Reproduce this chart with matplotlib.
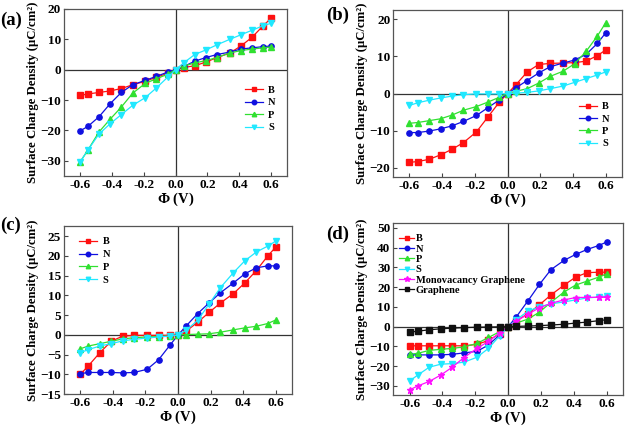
import numpy as np
import matplotlib.pyplot as plt

plt.rcParams['font.family'] = ['Liberation Serif', 'DejaVu Serif']
plt.rcParams['font.weight'] = 'bold'
plt.rcParams['mathtext.fontset'] = 'custom'
plt.rcParams['mathtext.rm'] = 'Liberation Serif:bold'
plt.rcParams['mathtext.bf'] = 'Liberation Serif:bold'
plt.rcParams['mathtext.it'] = 'Liberation Serif:bold:italic'

# bias potential (V)
phi = [-0.6, -0.55, -0.48, -0.41, -0.34, -0.27, -0.19, -0.12, -0.05, 0.0,
       0.05, 0.12, 0.19, 0.26, 0.34, 0.41, 0.48, 0.55, 0.6]

# (a)
a_B = [-8.5, -8, -7.5, -7, -6.2, -5, -3.8, -2.5, -1.2, 0, 0.7, 1.3, 2.5, 4, 5.5, 7.8, 10.7, 14.5, 17]
a_N = [-20.2, -18.7, -15.5, -11.2, -7.5, -5, -3.5, -2.2, -0.8, 0, 1, 2.8, 4, 5, 5.8, 6.8, 7.2, 7.6, 7.8]
a_P = [-30.5, -26.5, -20.5, -16.3, -12.3, -7.8, -4.5, -3, -1.5, 0, 1.2, 2.2, 3, 4, 5.5, 6.3, 6.8, 7.2, 7.5]
a_S = [-30.5, -26.5, -21.2, -17.8, -14.8, -11.8, -9.2, -6, -2.5, 0, 2.2, 5, 6.5, 8.2, 10, 11.5, 13, 14.5, 15.3]

# (b)
b_B = [-18.5, -18.3, -17.7, -16.5, -15, -13.2, -10.3, -6.3, -2.3, 0, 2.3, 5.8, 7.8, 8.1, 8.2, 8.3, 8.7, 10.2, 11.7]
b_N = [-10.5, -10.5, -10.1, -9.5, -8.7, -7.5, -5.9, -3.8, -1.7, 0, 1.5, 3.5, 5.5, 7.2, 8.2, 9, 10.5, 13.5, 16.3]
b_P = [-8, -7.8, -7.3, -6.8, -5.8, -4.5, -3.5, -2.3, -1, 0, 0.6, 1.3, 2.8, 4.6, 6, 8, 11.3, 15.5, 19]
b_S = [-3.2, -2.5, -1.8, -1.2, -0.7, -0.3, -0.1, -0.1, -0.1, 0, 0.1, 0.3, 0.7, 1.3, 2, 3, 4, 5, 5.8]

# (c)
c_B = [-10, -7.8, -4.5, -1.6, -0.3, -0.1, -0.1, -0.1, -0.1, 0, 1, 3.2, 5.7, 8.1, 10.5, 13.2, 16.3, 20, 22.3]
c_N = [-9.8, -9.5, -9.5, -9.5, -9.6, -9.5, -8.7, -6.3, -2.6, 0, 2.3, 5.4, 8.1, 10.7, 13.2, 15.5, 17, 17.5, 17.5]
c_P = [-3.5, -2.8, -2.2, -1.6, -1, -0.7, -0.5, -0.4, -0.3, 0, 0.1, 0.2, 0.3, 0.7, 1.3, 1.8, 2.2, 2.9, 3.8]
c_S = [-4.5, -3.7, -2.8, -2.2, -1.5, -1.1, -0.8, -0.5, -0.3, 0, 1.2, 3.7, 7.8, 12, 15.8, 18.8, 21, 22.5, 23.8]

# (d)
d_B = [-9.7, -9.7, -9.7, -9.7, -9.7, -9.7, -9, -7, -3.5, 0, 3, 6.5, 11, 16, 21, 25, 27.3, 27.5, 27.5]
d_N = [-14.3, -14.3, -14.3, -14.3, -14, -13.3, -12.5, -9.3, -4, 0, 5, 13, 21.3, 28.8, 33.5, 36.5, 39, 41, 42.8]
d_P = [-14, -13.5, -12, -11.5, -11, -10.3, -8.5, -5.5, -2.5, 0, 1.8, 3.8, 7.3, 12.3, 17.5, 21, 23, 25, 26.7]
d_S = [-27.5, -24.5, -20.5, -19, -18.7, -18, -15.5, -11, -4.5, 0, 3.5, 7.8, 10, 11.5, 12.5, 13.5, 14.5, 15, 15.5]
d_MV = [-32, -30, -27.7, -24.5, -20.5, -15.7, -11, -7.5, -3, 0, 2.8, 6.3, 9.5, 11.8, 13.5, 14.7, 14.8, 14.8, 14.8]
d_G = [-2.8, -2.3, -1.6, -1.1, -0.8, -0.5, -0.3, -0.2, -0.1, 0, 0.1, 0.3, 0.5, 0.8, 1.2, 1.8, 2.3, 3, 3.5]

names = ['B', 'N', 'P', 'S', 'Monovacancy Graphene', 'Graphene']
colors = ['#ff1010', '#1010e0', '#30e030', '#20e8ff', '#ff10ff', '#101010']
markers = ['s', 'o', '^', 'v', '*', 's']

fig = plt.figure(figsize=(6.27, 4.28), dpi=100)

panels = [
    ('(a)', [a_B, a_N, a_P, a_S], [0.102, 0.589, 0.356, 0.39], (-35, 20), [-30, -20, -10, 0, 10, 20],
     dict(bbox_to_anchor=(0.81, 0.54), labelspacing=0.3, handlelength=1.75, handletextpad=0.5, fontsize=7.5),
     (0.0, 0.953)),
    ('(b)', [b_B, b_N, b_P, b_S], [0.627, 0.586, 0.365, 0.391], (-22.5, 22.5), [-20, -10, 0, 10, 20],
     dict(bbox_to_anchor=(0.81, 0.45), labelspacing=0.3, handlelength=1.75, handletextpad=0.5, fontsize=7.5),
     (0.520, 0.963)),
    ('(c)', [c_B, c_N, c_P, c_S], [0.102, 0.079, 0.364, 0.393], (-15, 27.6), [-15, -10, -5, 0, 5, 10, 15, 20, 25],
     dict(bbox_to_anchor=(0.066, 0.935), labelspacing=0.35, handlelength=1.75, handletextpad=0.5, fontsize=7.5),
     (0.0, 0.474)),
    ('(d)', [d_B, d_N, d_P, d_S, d_MV, d_G], [0.627, 0.077, 0.367, 0.402], (-34.6, 52.4), [-30, -20, -10, 0, 10, 20, 30, 40, 50],
     dict(bbox_to_anchor=(0.026, 0.935), labelspacing=0.1, handlelength=1.45, handletextpad=0.15, fontsize=7.5),
     (0.520, 0.452)),
]

for label, series, rect, ylim, yticks, legkw, lpos in panels:
    ax = fig.add_axes(rect)
    ax.axhline(0, color='#333333', lw=0.9, zorder=1)
    ax.axvline(0, color='#333333', lw=0.9, zorder=1)
    for i, ys in enumerate(series):
        ax.plot(phi, ys, color=colors[i], marker=markers[i], ms=5 if markers[i] == '*' else 3.8,
                lw=0.9, label=names[i], zorder=3)
    ax.set_xlim(-0.7, 0.7)
    ax.set_ylim(*ylim)
    ax.set_xticks([-0.6, -0.4, -0.2, 0.0, 0.2, 0.4, 0.6])
    ax.set_xticklabels(['-0.6', '-0.4', '-0.2', '0.0', '0.2', '0.4', '0.6'])
    ax.set_yticks(yticks)
    ax.tick_params(direction='in', length=3, width=0.8, labelsize=9.5, pad=2, color='#444444')
    for sp in ax.spines.values():
        sp.set_color('#555555')
        sp.set_linewidth(0.9)
    ax.set_xlabel(r'$\mathit{\Phi}$ $\mathbf{(V)}$', fontsize=10.5, labelpad=0)
    ax.set_ylabel('Surface Charge Density (μC/cm²)', fontsize=9.2, fontweight='bold', labelpad=1)
    ax.legend(frameon=False, loc='upper left', borderpad=0, borderaxespad=0,
              markerscale=0.85, **legkw)
    fig.text(lpos[0], lpos[1], label, fontsize=13.5, fontweight='bold', ha='left', va='center')

fig.savefig('out.png', dpi=100)
